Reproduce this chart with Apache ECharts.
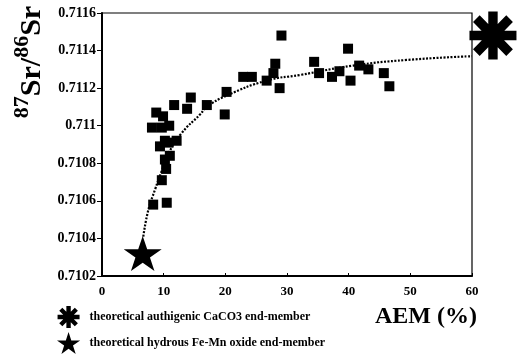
<!DOCTYPE html>
<html>
<head>
<meta charset="utf-8">
<script src="https://cdn.jsdelivr.net/npm/echarts@6/dist/echarts.min.js"></script>
<style>html,body{margin:0;padding:0;background:#fff}#c{width:522px;height:364px}</style>
</head>
<body>
<div id="c"></div>
<script>
// Measured samples: AEM (%) vs 87Sr/86Sr
const aemValues = [8.1, 8.8, 9.9, 10.9, 9.7, 9.4, 10.2, 10.8, 12.1, 10.2, 11.0, 10.4, 9.7, 8.3, 10.5,
  11.7, 13.8, 14.4, 17.0, 19.9, 20.2, 22.9, 24.3, 26.7, 27.8, 28.1, 28.8, 29.1,
  34.4, 35.2, 37.3, 38.5, 39.9, 40.3, 41.7, 43.2, 45.7, 46.6];
const srValues = [0.71099, 0.71107, 0.71105, 0.71100, 0.71099, 0.71089, 0.71092, 0.71091, 0.71092, 0.71082, 0.71084, 0.71077, 0.71071, 0.71058, 0.71059,
  0.71111, 0.71109, 0.71115, 0.71111, 0.71106, 0.71118, 0.71126, 0.71126, 0.71124, 0.71128, 0.71133, 0.71120, 0.71148,
  0.71134, 0.71128, 0.71126, 0.71129, 0.71141, 0.71124, 0.71132, 0.71130, 0.71128, 0.71121];
// Mixing curve
const curveAem = [6.7, 7.5, 8.6, 9.7, 10.75, 12.9, 15.9, 17.0, 20.2, 26.7, 32.1, 40.75, 49.4, 60];
const curveSr = [0.71041, 0.71055, 0.71066, 0.71076, 0.71085, 0.71096, 0.71106, 0.71110, 0.71116, 0.71124, 0.71127, 0.71132, 0.71135, 0.71137];
// End-members
const caco3Point = [63.4, 0.71148];
const femnPoint = [6.6, 0.71032];
const xTicks = { min: 0, max: 60, interval: 10 };
const yTicks = { min: 0.7102, max: 0.7116, interval: 0.0002 };
const legendNames = ['theoretical authigenic CaCO3 end-member', 'theoretical hydrous Fe-Mn oxide end-member'];

const ASTER = 'path://M40,0 L60,0 L60,100 L40,100 Z M0,40 L100,40 L100,60 L0,60 Z M21.7,7.6 L92.4,78.3 L78.3,92.4 L7.6,21.7 Z M78.3,7.6 L92.4,21.7 L21.7,92.4 L7.6,78.3 Z';
const STAR = 'path://M50,0 L61.23,34.55 L97.55,34.55 L68.16,55.9 L79.39,90.45 L50,69.1 L20.61,90.45 L31.84,55.9 L2.45,34.55 L38.77,34.55 Z';
const FONT = '"Liberation Serif", "Times New Roman", serif';

const chart = echarts.init(document.getElementById('c'), null, { renderer: 'canvas' });
chart.setOption({
  animation: false,
  backgroundColor: '#fff',
  grid: { left: 102, right: 50, top: 13, bottom: 88, show: true, borderColor: '#000', borderWidth: 1.2, backgroundColor: 'transparent' },
  xAxis: {
    type: 'value', min: xTicks.min, max: xTicks.max, interval: xTicks.interval,
    axisLine: { show: true, onZero: false, lineStyle: { color: '#000', width: 2 } },
    axisTick: { show: true, inside: true, length: 3, lineStyle: { color: '#000' } },
    axisLabel: { color: '#000', fontFamily: FONT, fontWeight: 'bold', fontSize: 13, margin: 9 },
    splitLine: { show: false }
  },
  yAxis: {
    type: 'value', min: yTicks.min, max: yTicks.max, interval: yTicks.interval,
    axisLine: { show: true, onZero: false, lineStyle: { color: '#000', width: 2 } },
    axisTick: { show: true, length: 5, lineStyle: { color: '#000' } },
    axisLabel: { color: '#000', fontFamily: FONT, fontWeight: 'bold', fontSize: 14, margin: 6,
      formatter: v => String(+v.toFixed(4)) },
    splitLine: { show: false }
  },
  legend: {
    orient: 'vertical', left: 52, top: 301, itemWidth: 24, itemHeight: 22, itemGap: 4,
    data: [{ name: legendNames[0], icon: ASTER }, { name: legendNames[1], icon: STAR }],
    itemStyle: { opacity: 1, color: '#000' },
    textStyle: { color: '#000', fontFamily: FONT, fontWeight: 'bold', fontSize: 12, padding: [0, 0, 0, 4] },
    selectedMode: false
  },
  graphic: [
    { type: 'text', left: 375, top: 305, style: { text: 'AEM (%)', fill: '#000', font: 'bold 24px ' + FONT } },
    { type: 'text', x: 29, y: 62, rotation: Math.PI / 2,
      style: {
        text: '{s|87}{m|Sr/}{s|86}{m|Sr}', align: 'center', verticalAlign: 'middle',
        rich: {
          m: { fontFamily: FONT, fontWeight: 'bold', fontSize: 30, fill: '#000', lineHeight: 36, verticalAlign: 'bottom' },
          s: { fontFamily: FONT, fontWeight: 'bold', fontSize: 22, fill: '#000', lineHeight: 36, verticalAlign: 'top' }
        }
      }
    }
  ],
  series: [
    {
      type: 'line', name: 'mixing', data: curveAem.map((x, i) => [x, curveSr[i]]),
      smooth: true, showSymbol: false, symbol: 'none',
      lineStyle: { color: '#000', width: 2.2, type: [2, 1.5] }, z: 2
    },
    {
      type: 'scatter', name: 'samples', data: aemValues.map((x, i) => [x, srValues[i]]),
      symbol: 'rect', symbolSize: 10, itemStyle: { color: '#000', opacity: 1 }, z: 3
    },
    {
      type: 'scatter', name: legendNames[0], data: [caco3Point], clip: false,
      symbol: ASTER, symbolSize: [47, 48], itemStyle: { color: '#000', opacity: 1 }, z: 4
    },
    {
      type: 'scatter', name: legendNames[1], data: [femnPoint], clip: false,
      symbol: STAR, symbolSize: [38, 35], itemStyle: { color: '#000', opacity: 1 }, z: 4
    }
  ]
});
</script>
</body>
</html>
